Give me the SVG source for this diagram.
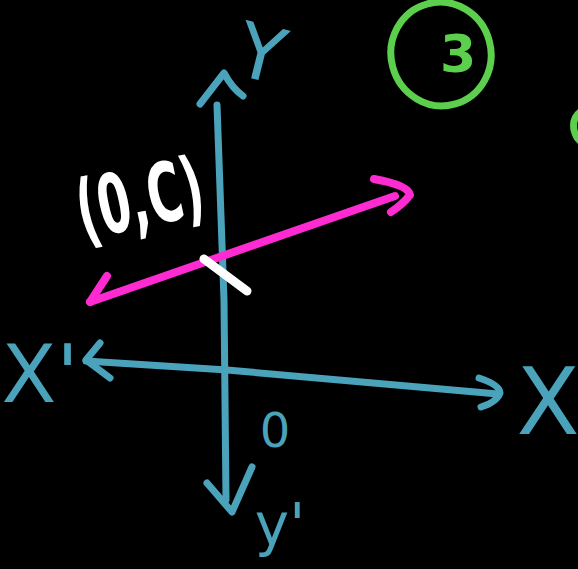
<svg xmlns="http://www.w3.org/2000/svg" width="578" height="569" viewBox="0 0 578 569">
<style>
.b{fill:none;stroke:#4aa2bb;stroke-width:7;stroke-linecap:round;stroke-linejoin:round}
.p{fill:none;stroke:#ff2bd2;stroke-width:8;stroke-linecap:round;stroke-linejoin:round}
.g{fill:none;stroke:#5ccf4c;stroke-width:7;stroke-linecap:round}
.bt{fill:#4aa2bb;font-family:"DejaVu Sans",sans-serif;font-weight:normal}
.wt{fill:#ffffff;font-family:"DejaVu Sans",sans-serif;font-weight:bold}
</style>
<rect width="578" height="569" fill="#000"/>
<g id="y-axis">
<path class="b" d="M217,105 L224,300 L226,500"/>
<path class="b" d="M200,104 L224,73 Q232,88 243,96"/>
<path class="b" d="M207,483 L232,512 L252,467"/>
</g>
<g id="x-axis">
<path class="b" d="M86,361 L227,370 L498,394"/>
<path class="b" d="M100,343 L86,360 L110,378"/>
<path class="b" d="M479,378 Q500,385 500,393 Q497,402 481,407"/>
</g>
<g id="line">
<path class="p" d="M90,302 L395,196"/>
<path class="p" d="M107,276 L90,302"/>
<path class="p" d="M374,179 Q408,185 410,195 Q402,205 391,212"/>
<path d="M204,259 L247,291" stroke="#fff" stroke-width="9" stroke-linecap="round" fill="none"/>
</g>
<g id="labels">
<text class="wt" x="140" y="227" font-size="82" text-anchor="middle" transform="rotate(-12 140 200)" textLength="128" lengthAdjust="spacingAndGlyphs">(0,C)</text>
<text class="bt" x="262" y="80" font-size="76" text-anchor="middle" transform="rotate(14 262 50)">Y</text>
<text class="bt" x="40" y="402" font-size="80" text-anchor="middle">X'</text>
<text class="bt" x="548" y="434" font-size="92" text-anchor="middle">X</text>
<text class="bt" x="275" y="447" font-size="48" text-anchor="middle">0</text>
<text class="bt" x="280" y="545" font-size="58" text-anchor="middle">y'</text>
</g>
<g id="badge">
<ellipse class="g" cx="441" cy="54" rx="50" ry="52" transform="rotate(-15 441 54)"/>
<text x="458" y="72" font-size="52" fill="#5ccf4c" font-family="DejaVu Sans,sans-serif" font-weight="bold" text-anchor="middle">3</text>
<path class="g" d="M580,112 Q572,118 574,130 Q576,138 580,141"/>
</g>
</svg>
